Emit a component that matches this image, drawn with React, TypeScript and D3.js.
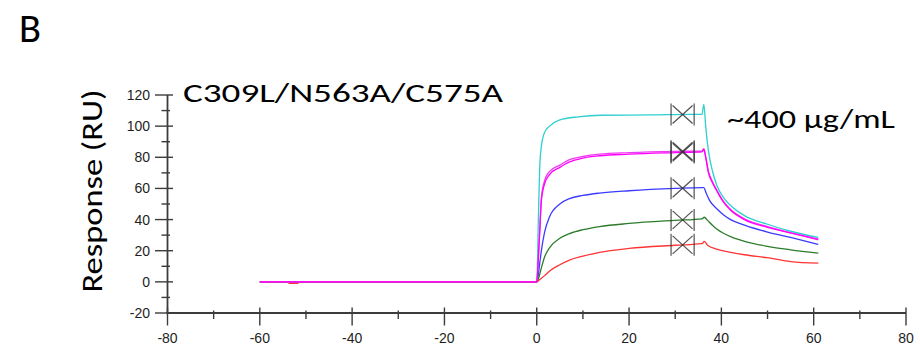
import React from "react";
import * as d3 from "d3";

// Sensorgram: time (s) vs response (RU) for a concentration series
type Pt = [number, number];

const xTicksMajor = [-80, -60, -40, -20, 0, 20, 40, 60, 80];
const xTicksMinor = [-70, -50, -30, -10, 10, 30, 50, 70];
const yTicksMajor = [-20, 0, 20, 40, 60, 80, 100, 120];
const yTicksMinor = [-10, 10, 30, 50, 70, 90, 110];

const cyanSeries: Pt[] = [
  [-60, 0], [0, 0], [0.35, 40], [0.65, 74], [1.0, 87], [1.7, 96], [2.8, 100], [5, 104],
  [9, 106], [14, 107], [25, 107.2], [33, 107.5], [35.8, 107.5], [36.2, 114], [36.6, 100],
  [37.2, 84], [38, 72], [39, 62], [40.5, 54], [42, 49], [45, 42.5], [50, 37], [55, 32.5], [61, 28.5],
];
const magentaSeriesA: Pt[] = [
  [-60, 0], [0, 0], [0.35, 15], [0.65, 32], [1.0, 52], [1.7, 63], [2.8, 69], [5, 73.5],
  [7.1, 77], [10, 79.5], [13.6, 81], [20, 82], [30, 83], [35.8, 83.5], [36.2, 85], [36.6, 80],
  [37.2, 70], [38, 64], [39, 58.5], [40.5, 51], [42, 46], [45, 40], [50, 35], [55, 31.5], [61, 27.5],
];
const magentaSeriesB: Pt[] = [
  [-60, 0], [0, 0], [0.35, 16], [0.65, 34], [1.0, 54], [1.7, 65], [2.8, 71], [5, 75],
  [7.1, 78.5], [10, 80.5], [13.6, 82], [20, 83], [30, 83.8], [35.8, 84], [36.2, 85.5], [36.6, 80.5],
  [37.2, 71], [38, 65], [39, 59], [40.5, 51.5], [42, 46.5], [45, 40.5], [50, 35.5], [55, 31.5], [61, 27],
];
const blueSeries: Pt[] = [
  [-60, 0], [0, 0], [0.35, 5], [0.65, 12], [1, 20], [1.7, 32], [2.8, 42], [5, 50], [7.1, 53.5],
  [10, 55.5], [13.6, 57], [20, 58.5], [30, 60], [35.8, 60.5], [36.2, 60.5], [36.7, 57], [37.5, 52],
  [39, 47], [40.5, 43], [42, 40], [45, 36.5], [50, 32], [55, 28.5], [61, 24],
];
const greenSeries: Pt[] = [
  [-60, 0], [0, 0], [0.65, 5], [1, 9], [1.7, 16], [2.8, 22], [5, 28], [7.1, 31], [10, 33.5],
  [13.6, 35.5], [20, 37.5], [30, 39.5], [35.8, 40.5], [36.3, 41.5], [37, 39.5], [38, 36.5],
  [39, 34], [42, 29], [45, 26], [50, 22.8], [55, 20.6], [61, 18.5],
];
const redSeries: Pt[] = [
  [-60, 0], [-54, 0], [-53.6, -1], [-51.8, -1], [-51.5, 0], [0, 0], [0.65, 1.5], [1.7, 4],
  [2.8, 7], [5, 11], [7.1, 14], [10, 16.5], [13.6, 19], [20, 21.5], [30, 23.5], [35.8, 24.5],
  [36.3, 26], [37, 23.5], [39, 21], [42, 19], [45, 17.4], [50, 15.5], [55, 13], [61, 12],
];

const seriesList = [cyanSeries, blueSeries, greenSeries, redSeries, magentaSeriesB, magentaSeriesA];
const seriesColors = ["#2fcfcf", "#3b3bff", "#2b7d2b", "#ff3434", "#f03cf0", "#ff00ff"];

// report point (s) and its averaging window (s)
const reportTime = 31.6;
const reportWindow = 2.5;

const titleText = "C309L/N563A/C575A";
const concText = "~400 µg/mL";
const panelLabel = "B";
const yLabel = "Response (RU)";

const W = 920;
const H = 356;

function valueAt(data: Pt[], t: number): number {
  const i = d3.bisector((d: Pt) => d[0]).left(data, t);
  if (i <= 0) return data[0][1];
  if (i >= data.length) return data[data.length - 1][1];
  const [t0, v0] = data[i - 1];
  const [t1, v1] = data[i];
  return v0 + ((v1 - v0) * (t - t0)) / (t1 - t0);
}

export default function App() {
  const x = d3.scaleLinear().domain([-80, 80]).range([167.5, 906]);
  const y = d3.scaleLinear().domain([-20, 120]).range([313, 95]);
  const line = d3
    .line<Pt>()
    .x((d) => x(d[0]))
    .y((d) => y(d[1]))
    .curve(d3.curveMonotoneX);

  const axisColor = "#3c3c3c";
  const tickFont = "'Liberation Sans', Arial, sans-serif";
  const textFont = "Carlito, Calibri, Lato, 'Open Sans', sans-serif";
  const x0 = x(-80);
  const y0 = y(-20);

  return (
    <svg
      width={W}
      height={H}
      style={{ position: "fixed", left: 0, top: 0, background: "#fff" }}
    >
      <rect width={W} height={H} fill="#fff" />
      <text x={19} y={42} fontFamily={textFont} fontSize={41} textLength={22} lengthAdjust="spacingAndGlyphs" fill="#000">
        {panelLabel}
      </text>
      <text
        transform={`translate(102,191) rotate(-90)`}
        textAnchor="middle"
        fontFamily={textFont}
        fontSize={28}
        textLength={203}
        lengthAdjust="spacingAndGlyphs"
        fill="#000"
      >
        {yLabel}
      </text>
      <text x={183} y={101.5} fontFamily={textFont} fontSize={26.6} textLength={320} lengthAdjust="spacingAndGlyphs" fill="#000">
        {titleText}
      </text>
      <text x={727} y={127.5} fontFamily={textFont} fontSize={27.3} textLength={168} lengthAdjust="spacingAndGlyphs" fill="#000">
        {concText}
      </text>

      {/* axes */}
      <g stroke={axisColor} strokeWidth={1.4}>
        {yTicksMajor.map((v) => (
          <line key={`ym${v}`} x1={x0 - 12.5} x2={x0 + 5.5} y1={y(v)} y2={y(v)} />
        ))}
        {yTicksMinor.map((v) => (
          <line key={`yn${v}`} x1={x0 - 6} x2={x0 + 2.5} y1={y(v)} y2={y(v)} />
        ))}
        {xTicksMajor.map((v) => (
          <line key={`xm${v}`} x1={x(v)} x2={x(v)} y1={y0 - 5.5} y2={y0 + 12.5} />
        ))}
        {xTicksMinor.map((v) => (
          <line key={`xn${v}`} x1={x(v)} x2={x(v)} y1={y0 - 2.5} y2={y0 + 6} />
        ))}
      </g>
      <line x1={x0} x2={x0} y1={y(120)} y2={y0 + 1} stroke={axisColor} strokeWidth={1.8} />
      <line x1={x0 - 1} x2={x(80)} y1={y0} y2={y0} stroke={axisColor} strokeWidth={1.8} />

      <g fontFamily={tickFont} fontSize={14} fill="#1e1e1e">
        {yTicksMajor.map((v) => (
          <text key={`yl${v}`} x={150} y={y(v)} dy="0.36em" textAnchor="end">
            {v}
          </text>
        ))}
        {xTicksMajor.map((v) => (
          <text key={`xl${v}`} x={x(v)} y={342.5} textAnchor="middle">
            {v}
          </text>
        ))}
      </g>

      {/* sensorgram curves */}
      <g fill="none" strokeWidth={1.3} strokeLinejoin="round">
        {seriesList.map((s, i) => (
          <path key={`s${i}`} d={line(s) ?? ""} stroke={seriesColors[i]} />
        ))}
      </g>

      {/* report-point markers */}
      <g stroke="#333" strokeWidth={1.2} strokeOpacity={0.85}>
        {seriesList.map((s, i) => {
          const cx = x(reportTime);
          const cy = y(valueAt(s, reportTime));
          const xl = x(reportTime - reportWindow);
          const xr = x(reportTime + reportWindow);
          return (
            <g key={`m${i}`}>
              <line x1={cx - 10} y1={cy - 9} x2={cx + 10} y2={cy + 9} />
              <line x1={cx - 10} y1={cy + 9} x2={cx + 10} y2={cy - 9} />
              <line x1={xl} x2={xl} y1={cy - 11} y2={cy + 11} />
              <line x1={xr} x2={xr} y1={cy - 11} y2={cy + 11} />
            </g>
          );
        })}
      </g>
    </svg>
  );
}
